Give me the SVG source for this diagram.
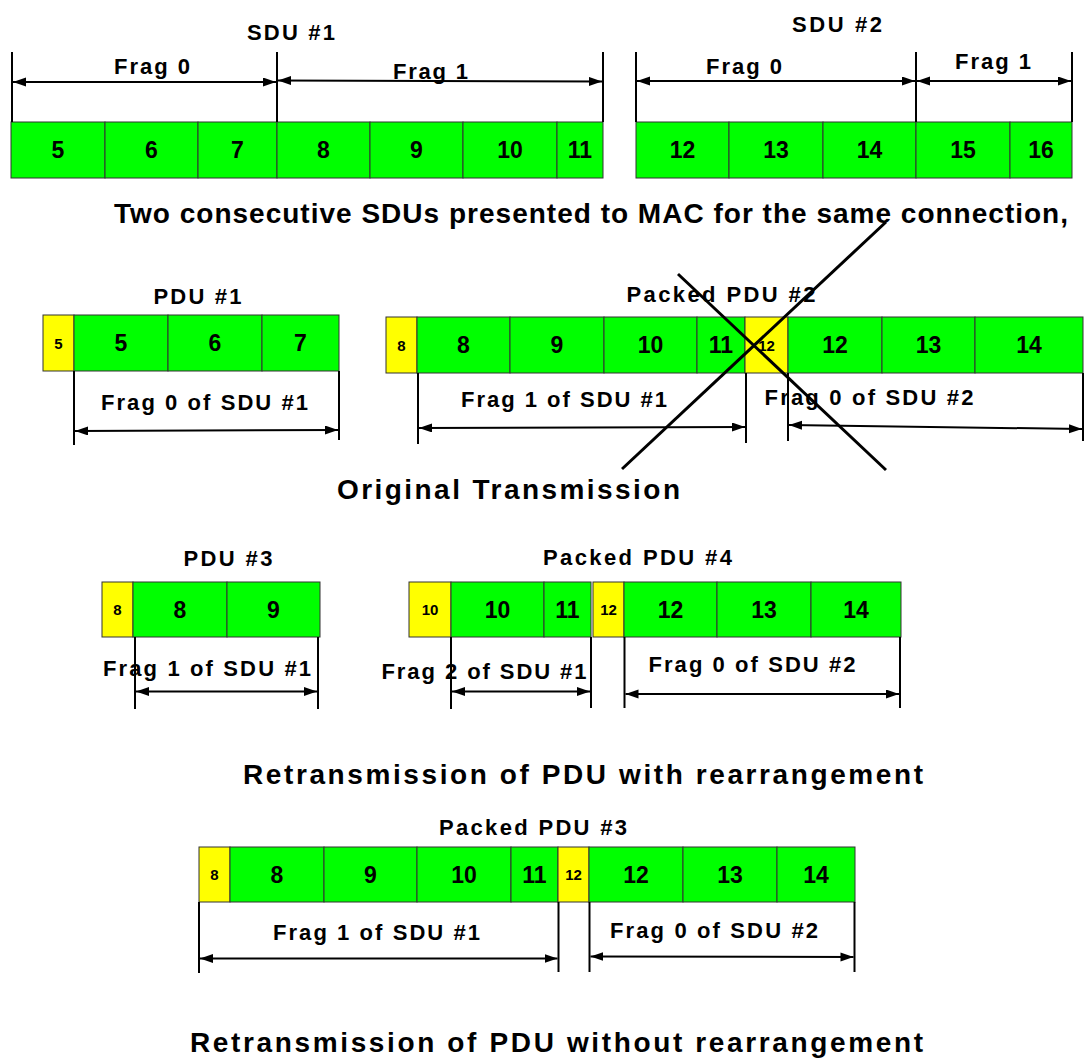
<svg xmlns="http://www.w3.org/2000/svg" width="1084" height="1059" viewBox="0 0 1084 1059">
<style>
text{font-family:"Liberation Sans",Arial,sans-serif;font-weight:bold;fill:#000}
.t{font-size:22px;text-anchor:middle}
.cap{font-size:28px;text-anchor:middle}
.d{font-size:23px;text-anchor:middle}
.s{font-size:15px;text-anchor:middle}
.g{fill:#00FF00;stroke:#333;stroke-width:1}
.y{fill:#FFFF00;stroke:#333;stroke-width:1}
.v{stroke:#000;stroke-width:2;fill:none}
.a{stroke:#000;stroke-width:2;fill:none;marker-start:url(#ah);marker-end:url(#ah)}
.x{stroke:#000;stroke-width:3;fill:none}
</style>
<defs>
<marker id="ah" markerUnits="userSpaceOnUse" markerWidth="14" markerHeight="10" refX="13" refY="4.5" orient="auto-start-reverse">
<path d="M0,0 L13,4.5 L0,9 z" fill="#000"/>
</marker>
</defs>
<rect width="1084" height="1059" fill="#fff"/>

<g id="sdu1">
<text class="t" x="291" y="40" textLength="88" lengthAdjust="spacing">SDU #1</text>
<rect class="g" x="11" y="122" width="94" height="56"/>
<rect class="g" x="105" y="122" width="93" height="56"/>
<rect class="g" x="198" y="122" width="79" height="56"/>
<rect class="g" x="277" y="122" width="93" height="56"/>
<rect class="g" x="370" y="122" width="93" height="56"/>
<rect class="g" x="463" y="122" width="94" height="56"/>
<rect class="g" x="557" y="122" width="46" height="56"/>
<text class="d" x="58" y="158">5</text>
<text class="d" x="151.5" y="158">6</text>
<text class="d" x="237.5" y="158">7</text>
<text class="d" x="323.5" y="158">8</text>
<text class="d" x="416.5" y="158">9</text>
<text class="d" x="510" y="158">10</text>
<text class="d" x="580" y="158">11</text>
<text class="t" x="152" y="74" textLength="76" lengthAdjust="spacing">Frag 0</text>
<text class="t" x="430.5" y="79" textLength="75" lengthAdjust="spacing">Frag 1</text>
</g>

<g id="sdu2">
<text class="t" x="837" y="32" textLength="90" lengthAdjust="spacing">SDU #2</text>
<rect class="g" x="636" y="122" width="93" height="56"/>
<rect class="g" x="729" y="122" width="94" height="56"/>
<rect class="g" x="823" y="122" width="93" height="56"/>
<rect class="g" x="916" y="122" width="94" height="56"/>
<rect class="g" x="1010" y="122" width="62" height="56"/>
<text class="d" x="682.5" y="158">12</text>
<text class="d" x="776" y="158">13</text>
<text class="d" x="869.5" y="158">14</text>
<text class="d" x="963" y="158">15</text>
<text class="d" x="1041" y="158">16</text>
<text class="t" x="744" y="74" textLength="76" lengthAdjust="spacing">Frag 0</text>
<text class="t" x="993" y="69" textLength="76" lengthAdjust="spacing">Frag 1</text>
</g>

<g id="caption1">
<text class="cap" x="591" y="223" textLength="954" lengthAdjust="spacing">Two consecutive SDUs presented to MAC for the same connection,</text>
</g>

<g id="pdu1">
<text class="t" x="197.5" y="304" textLength="88" lengthAdjust="spacing">PDU #1</text>
<rect class="y" x="43" y="315" width="31" height="56"/>
<rect class="g" x="74" y="315" width="94" height="56"/>
<rect class="g" x="168" y="315" width="94" height="56"/>
<rect class="g" x="262" y="315" width="77" height="56"/>
<text class="s" x="58.5" y="348.5">5</text>
<text class="d" x="121" y="351">5</text>
<text class="d" x="215" y="351">6</text>
<text class="d" x="300.5" y="351">7</text>
<text class="t" x="204.5" y="410" textLength="207" lengthAdjust="spacing">Frag 0 of SDU #1</text>
</g>

<g id="pdu2">
<text class="t" x="721" y="302" textLength="189" lengthAdjust="spacing">Packed PDU #2</text>
<rect class="y" x="386" y="317" width="31" height="56"/>
<rect class="g" x="417" y="317" width="93" height="56"/>
<rect class="g" x="510" y="317" width="94" height="56"/>
<rect class="g" x="604" y="317" width="93" height="56"/>
<rect class="g" x="697" y="317" width="48" height="56"/>
<rect class="y" x="745" y="317" width="43" height="56"/>
<rect class="g" x="788" y="317" width="94" height="56"/>
<rect class="g" x="882" y="317" width="93" height="56"/>
<rect class="g" x="975" y="317" width="108" height="56"/>
<text class="s" x="401.5" y="350.5">8</text>
<text class="d" x="463.5" y="353">8</text>
<text class="d" x="557" y="353">9</text>
<text class="d" x="650.5" y="353">10</text>
<text class="d" x="721" y="353">11</text>
<text class="s" x="766.5" y="350.5">12</text>
<text class="d" x="835" y="353">12</text>
<text class="d" x="928.5" y="353">13</text>
<text class="d" x="1029" y="353">14</text>
<text class="t" x="564" y="407" textLength="206" lengthAdjust="spacing">Frag 1 of SDU #1</text>
<text class="t" x="869" y="405" textLength="209" lengthAdjust="spacing">Frag 0 of SDU #2</text>
</g>

<g id="caption2">
<text class="cap" x="508.5" y="499" textLength="343" lengthAdjust="spacing">Original Transmission</text>
</g>

<g id="pdu3">
<text class="t" x="228" y="566" textLength="89" lengthAdjust="spacing">PDU #3</text>
<rect class="y" x="102" y="582" width="31" height="55"/>
<rect class="g" x="133" y="582" width="94" height="55"/>
<rect class="g" x="227" y="582" width="93" height="55"/>
<text class="s" x="117.5" y="614.5">8</text>
<text class="d" x="180" y="617.5">8</text>
<text class="d" x="273.5" y="617.5">9</text>
<text class="t" x="207" y="675.5" textLength="208" lengthAdjust="spacing">Frag 1 of SDU #1</text>
</g>

<g id="pdu4">
<text class="t" x="637.5" y="565" textLength="189" lengthAdjust="spacing">Packed PDU #4</text>
<rect class="y" x="409" y="582" width="42" height="55"/>
<rect class="g" x="451" y="582" width="93" height="55"/>
<rect class="g" x="544" y="582" width="47" height="55"/>
<rect class="y" x="593" y="582" width="31" height="55"/>
<rect class="g" x="624" y="582" width="93" height="55"/>
<rect class="g" x="717" y="582" width="94" height="55"/>
<rect class="g" x="811" y="582" width="90" height="55"/>
<text class="s" x="430" y="614.5">10</text>
<text class="d" x="497.5" y="617.5">10</text>
<text class="d" x="567.5" y="617.5">11</text>
<text class="s" x="608.5" y="614.5">12</text>
<text class="d" x="670.5" y="617.5">12</text>
<text class="d" x="764" y="617.5">13</text>
<text class="d" x="856" y="617.5">14</text>
<text class="t" x="484" y="679" textLength="205" lengthAdjust="spacing">Frag 2 of SDU #1</text>
<text class="t" x="752" y="671.5" textLength="207" lengthAdjust="spacing">Frag 0 of SDU #2</text>
</g>

<g id="caption3">
<text class="cap" x="583" y="784" textLength="680" lengthAdjust="spacing">Retransmission of PDU with rearrangement</text>
</g>

<g id="pdu3b">
<text class="t" x="533" y="835" textLength="188" lengthAdjust="spacing">Packed PDU #3</text>
<rect class="y" x="199" y="847" width="31" height="55"/>
<rect class="g" x="230" y="847" width="94" height="55"/>
<rect class="g" x="324" y="847" width="93" height="55"/>
<rect class="g" x="417" y="847" width="94" height="55"/>
<rect class="g" x="511" y="847" width="47" height="55"/>
<rect class="y" x="558" y="847" width="31" height="55"/>
<rect class="g" x="589" y="847" width="94" height="55"/>
<rect class="g" x="683" y="847" width="94" height="55"/>
<rect class="g" x="777" y="847" width="78" height="55"/>
<text class="s" x="214.5" y="879.5">8</text>
<text class="d" x="277" y="882.5">8</text>
<text class="d" x="370.5" y="882.5">9</text>
<text class="d" x="464" y="882.5">10</text>
<text class="d" x="534.5" y="882.5">11</text>
<text class="s" x="573.5" y="879.5">12</text>
<text class="d" x="636" y="882.5">12</text>
<text class="d" x="730" y="882.5">13</text>
<text class="d" x="816" y="882.5">14</text>
<text class="t" x="376.5" y="940" textLength="207" lengthAdjust="spacing">Frag 1 of SDU #1</text>
<text class="t" x="714" y="938" textLength="208" lengthAdjust="spacing">Frag 0 of SDU #2</text>
</g>

<g id="caption4">
<text class="cap" x="556.5" y="1052" textLength="733" lengthAdjust="spacing">Retransmission of PDU without rearrangement</text>
</g>

<g id="connectors">
<line class="v" x1="12" y1="52" x2="12" y2="122"/>
<line class="v" x1="277" y1="52" x2="277" y2="122"/>
<line class="v" x1="603" y1="52" x2="603" y2="122"/>
<line class="a" x1="13" y1="82" x2="276" y2="82"/>
<line class="a" x1="278" y1="80.5" x2="602" y2="81.5"/>
<line class="v" x1="636" y1="52" x2="636" y2="122"/>
<line class="v" x1="916" y1="52" x2="916" y2="122"/>
<line class="v" x1="1072" y1="52" x2="1072" y2="122"/>
<line class="a" x1="637" y1="81" x2="915" y2="81"/>
<line class="a" x1="917" y1="81" x2="1071" y2="81"/>
<line class="v" x1="74" y1="371" x2="74" y2="445"/>
<line class="v" x1="339" y1="371" x2="339" y2="440"/>
<line class="a" x1="75" y1="431" x2="338" y2="430"/>
<line class="v" x1="418" y1="373" x2="418" y2="444"/>
<line class="v" x1="746" y1="373" x2="746" y2="443"/>
<line class="v" x1="788" y1="373" x2="788" y2="441"/>
<line class="v" x1="1083" y1="373" x2="1083" y2="441"/>
<line class="a" x1="419" y1="428" x2="745" y2="427"/>
<line class="a" x1="789" y1="425" x2="1082" y2="429"/>
<line class="v" x1="135" y1="637" x2="135" y2="709"/>
<line class="v" x1="318" y1="637" x2="318" y2="709"/>
<line class="a" x1="136" y1="691.5" x2="317" y2="691.5"/>
<line class="v" x1="451" y1="637" x2="451" y2="709"/>
<line class="v" x1="591" y1="637" x2="591" y2="708"/>
<line class="v" x1="624.5" y1="637" x2="624.5" y2="708"/>
<line class="v" x1="900" y1="637" x2="900" y2="708"/>
<line class="a" x1="452" y1="691.5" x2="590" y2="691.5"/>
<line class="a" x1="625.5" y1="694" x2="899" y2="694"/>
<line class="v" x1="199" y1="902" x2="199" y2="973"/>
<line class="v" x1="558.5" y1="902" x2="558.5" y2="972"/>
<line class="v" x1="589.5" y1="902" x2="589.5" y2="972"/>
<line class="v" x1="854.5" y1="902" x2="854.5" y2="972"/>
<line class="a" x1="200" y1="958.5" x2="557.5" y2="958.5"/>
<line class="a" x1="590.5" y1="956.5" x2="853.5" y2="957"/>
<line class="x" x1="678" y1="274" x2="886" y2="470"/>
<line class="x" x1="886" y1="222" x2="622" y2="469"/>
</g>
</svg>
